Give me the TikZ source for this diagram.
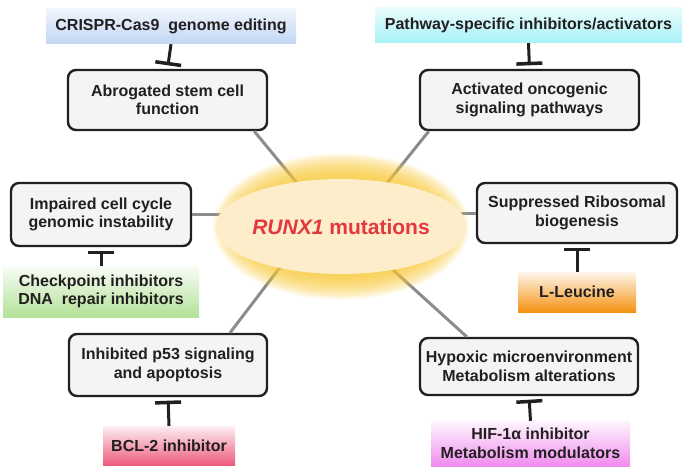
\documentclass[tikz,border=0pt]{standalone}
\usepackage{fontspec}
\setmainfont{Liberation Sans}
\usetikzlibrary{arrows.meta,calc,shapes.geometric}
\definecolor{ink}{HTML}{231F20}
\definecolor{boxgray}{HTML}{F3F4F4}
\definecolor{linkgray}{HTML}{8C8C8C}
\definecolor{glowc}{HTML}{F8C93A}
\definecolor{creamc}{HTML}{FDEDCB}
\definecolor{runxred}{HTML}{E2383E}
\definecolor{blueB}{HTML}{C2D6F4}
\definecolor{cyanB}{HTML}{A8F2F6}
\definecolor{greenB}{HTML}{B2E196}
\definecolor{orangeB}{HTML}{F59212}
\definecolor{pinkB}{HTML}{EC5C7C}
\definecolor{magB}{HTML}{F08CEE}
\tikzset{
  effect/.style={draw=ink, line width=2.4pt, rounded corners=8pt, fill=boxgray,
    inner sep=0pt, align=center, text=ink,
    font=\bfseries\fontsize{16}{18.5}\selectfont},
  drug/.style={inner sep=0pt, align=center, text=ink,
    font=\bfseries\fontsize{16}{18.5}\selectfont},
  link/.style={draw=linkgray, line width=3pt},
  inhib/.style={draw=ink, line width=3pt, shorten >=3.5pt,
    -{Bar[width=26pt,line width=3.5pt]}},
}
\begin{document}
\begin{tikzpicture}[x=1pt,y=-1pt]
\useasboundingbox (0,0) rectangle (693,473);
% effect boxes
\node[effect, minimum width=199pt, minimum height=60pt] (b1) at (167.5,100) {Abrogated stem cell\\function};
\node[effect, minimum width=219pt, minimum height=60pt] (b2) at (529.5,100) {Activated oncogenic\\signaling pathways};
\node[effect, minimum width=180pt, minimum height=63pt] (b3) at (101,214.5) {Impaired cell cycle\\genomic instability};
\node[effect, minimum width=200pt, minimum height=60pt] (b4) at (577,213) {Suppressed Ribosomal\\biogenesis};
\node[effect, minimum width=198pt, minimum height=62pt] (b5) at (168,365) {Inhibited p53 signaling\\and apoptosis};
\node[effect, minimum width=218pt, minimum height=57pt] (b6) at (529,366.5) {Hypoxic microenvironment\\Metabolism alterations};
% drug labels
\node[drug, minimum width=250pt, minimum height=35pt, top color=blueB!25, bottom color=blueB] (d1) at (171,26.5) {CRISPR-Cas9\ \ genome editing};
\node[drug, minimum width=307pt, minimum height=35pt, top color=cyanB!25, bottom color=cyanB] (d2) at (528.5,25.5) {Pathway-specific inhibitors/activators};
\node[drug, minimum width=196pt, minimum height=51pt, top color=greenB!8, bottom color=greenB] (d3) at (101,291.5) {Checkpoint inhibitors\\DNA\ \ repair inhibitors};
\node[drug, minimum width=118pt, minimum height=40pt, top color=orangeB!8, bottom color=orangeB] (d4) at (577,292) {L-Leucine};
\node[drug, minimum width=132pt, minimum height=39pt, top color=pinkB!10, bottom color=pinkB] (d5) at (169,445.5) {BCL-2 inhibitor};
\node[drug, minimum width=199pt, minimum height=45pt, top color=magB!8, bottom color=magB] (d6) at (530.5,443.5) {HIF-1α inhibitor\\Metabolism modulators};
% inhibition bars
\draw[inhib] (d1.south) -- (b1.north);
\draw[inhib] (d2.south) -- (b2.north);
\draw[inhib] (d3.north) -- (b3.south);
\draw[inhib] (d4.north) -- (b4.south);
\draw[inhib] (d5.north) -- (b5.south);
\draw[inhib] (d6.north) -- (b6.south);
% connectors to centre
\coordinate (k1) at (330,223);
\coordinate (k2) at (355,223);
\coordinate (k3) at (300,214.5);
\coordinate (k4) at (390,213);
\coordinate (k5) at (310,228);
\coordinate (k6) at (360,240);
\draw[link] (k1) -- ($(b1.south east)+(-14,0)$);
\draw[link] (k2) -- ($(b2.south west)+(10,0)$);
\draw[link] (k3) -- (b3.east);
\draw[link] (k4) -- (b4.west);
\draw[link] (k5) -- ($(b5.north)+(62,0)$);
\draw[link] (k6) -- ($(b6.north west)+(48,0)$);
% centre glow and ellipse
\foreach \i in {0,...,15}{
  \fill[glowc, fill opacity=0.11] (341,226.5) ellipse [x radius={98+2*\i}, y radius={47.5+1.7*\i}];
}
\node[ellipse, fill=creamc, minimum width=196pt, minimum height=95pt, inner sep=0pt,
  text=runxred, font=\bfseries\fontsize{21}{24}\selectfont] (c) at (341,226.5) {\textit{RUNX1} mutations};
\end{tikzpicture}
\end{document}
